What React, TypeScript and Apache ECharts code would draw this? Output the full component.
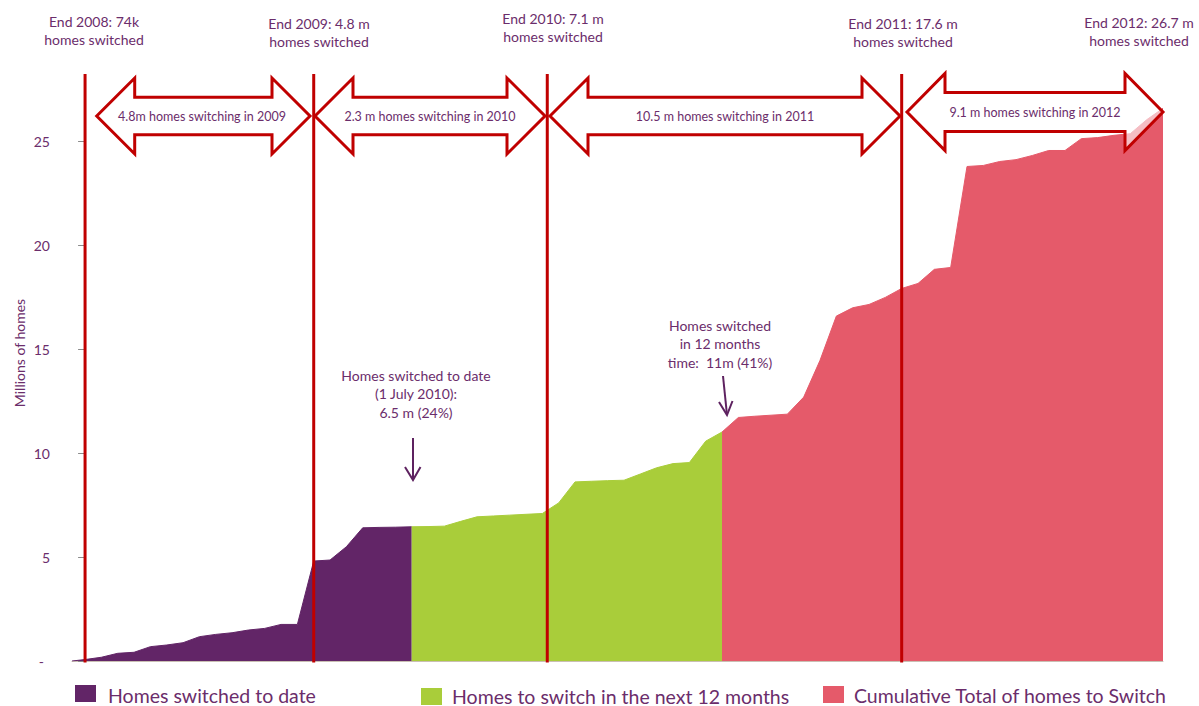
import React, { useEffect, useRef } from "react";
import * as echarts from "echarts";

// Cumulative homes switched (millions), one value per step of the horizontal axis
// steps 0..20 : homes switched to date (end 2008 -> 1 July 2010)
const switchedToDate = [0.07, 0.18, 0.37, 0.42, 0.69, 0.77, 0.88, 1.17, 1.28, 1.36, 1.49, 1.57, 1.76, 1.76, 4.81, 4.86, 5.5, 6.41, 6.43, 6.44, 6.46];
// steps 20..39 : homes to switch in the next 12 months
const nextTwelveMonths = [6.46, 6.47, 6.49, 6.72, 6.94, 6.98, 7.02, 7.06, 7.1, 7.61, 8.62, 8.65, 8.68, 8.7, 9.0, 9.3, 9.5, 9.55, 10.58, 11.02];
// steps 39..66 : cumulative total of homes to switch
const cumulativeTotal = [11.02, 11.72, 11.78, 11.83, 11.88, 12.7, 14.47, 16.6, 17.0, 17.16, 17.5, 17.93, 18.17, 18.85, 18.94, 23.8, 23.85, 24.04, 24.13, 24.33, 24.57, 24.57, 25.14, 25.19, 25.3, 25.38, 26.05, 26.6];

const seriesNames = ["Homes switched to date", "Homes to switch in the next 12 months", "Cumulative Total of homes to Switch"];
const seriesStart = [0, 20, 39];

const yTicks = [0, 5, 10, 15, 20, 25];
const Y_MAX = 27;
const X_MIN = -0.8;
const X_MAX = 66;

// year-end positions on the step axis
const yearEndSteps = [0, 14, 28.3, 50];
const yearEndLabels = [
  "End 2008: 74k\nhomes switched",
  "End 2009: 4.8 m\nhomes switched",
  "End 2010: 7.1 m\nhomes switched",
  "End 2011: 17.6 m\nhomes switched",
  "End 2012: 26.7 m\nhomes switched",
];
const yearArrowLabels = [
  "4.8m homes switching in 2009",
  "2.3 m homes switching in 2010",
  "10.5 m homes switching in 2011",
  "9.1 m homes switching in 2012",
];
const noteToDate = "Homes switched to date\n(1 July 2010):\n6.5 m (24%)";
const noteTwelve = "Homes switched\nin 12 months\ntime:  11m (41%)";

// layout (pixels) for overlays
const topLabelPos = [[94, 30], [319, 32], [553, 27.5], [903, 32.5], [1139, 31.5]];
const arrowSpans = [[96.7, 310, 116, 18.7, 38], [315, 545, 116, 18.7, 38], [550, 900, 116, 18.7, 38], [907, 1163, 112, 19.5, 38.5]];
const arrowTextPos = [[202, 116], [430, 116], [725, 116], [1035, 112]];

const COLORS = ["#622567", "#a9cd3a", "#e55a6a"];
const TEXT = "#6b2d6b";
const RED = "#c00000";
const FONT = "Lato";

function toPairs(vals: number[], start: number) {
  return vals.map((v, k) => [start + k, v]);
}

function arrowPoints(x1: number, x2: number, cy: number, sh: number, hh: number) {
  const hl = 38;
  return [
    [x1, cy], [x1 + hl, cy - hh], [x1 + hl, cy - sh], [x2 - hl, cy - sh], [x2 - hl, cy - hh],
    [x2, cy], [x2 - hl, cy + hh], [x2 - hl, cy + sh], [x1 + hl, cy + sh], [x1 + hl, cy + hh],
  ];
}

export default function App() {
  const ref = useRef<HTMLDivElement>(null);
  useEffect(() => {
    const el = ref.current!;
    const chart = echarts.init(el, null, { renderer: "svg" });
    const datasets = [
      [[X_MIN, 0], ...toPairs(switchedToDate, seriesStart[0])],
      toPairs(nextTwelveMonths, seriesStart[1]),
      toPairs(cumulativeTotal, seriesStart[2]),
    ];
    chart.setOption({
      animation: false,
      backgroundColor: "#ffffff",
      grid: { left: 72, right: 36, top: 100, bottom: 45 },
      xAxis: {
        type: "value",
        min: X_MIN,
        max: X_MAX,
        axisLine: { show: true, lineStyle: { color: "#c9bfb3", width: 1 } },
        axisTick: { show: false },
        axisLabel: { show: false },
        splitLine: { show: false },
      },
      yAxis: {
        type: "value",
        min: 0,
        max: Y_MAX,
        axisLine: { show: true, lineStyle: { color: "#8c8c8c", width: 2 } },
        axisTick: { show: true, length: 7, customValues: yTicks, lineStyle: { color: "#8c8c8c", width: 1 } },
        axisLabel: {
          customValues: yTicks,
          formatter: (v: number) => (v === 0 ? "{d|-}" : String(v)),
          color: TEXT,
          fontSize: 14,
          fontFamily: FONT,
          margin: 22,
          rich: { d: { color: TEXT, fontSize: 14, fontFamily: FONT, padding: [0, 6, 0, 0] } },
        },
        splitLine: { show: false },
      },
      series: datasets.map((d, i) => ({
        name: seriesNames[i],
        type: "line",
        data: d,
        symbol: "none",
        lineStyle: { width: 1, color: COLORS[i] },
        itemStyle: { color: COLORS[i] },
        areaStyle: { color: COLORS[i], opacity: 1 },
        z: 2 + i,
      })),
    });

    const xs = yearEndSteps.map((s) => chart.convertToPixel({ xAxisIndex: 0 }, s) as number);
    const yZero = chart.convertToPixel({ yAxisIndex: 0 }, 0) as number;

    const g: any[] = [];
    xs.forEach((x) => {
      g.push({ type: "line", z: 100, shape: { x1: x, y1: 74, x2: x, y2: yZero + 1.5 }, style: { stroke: RED, lineWidth: 3 } });
    });
    arrowSpans.forEach(([x1, x2, cy, sh, hh]) => {
      g.push({
        type: "polygon", z: 101,
        shape: { points: arrowPoints(x1, x2, cy, sh, hh) },
        style: { fill: "rgba(255,255,255,0.6)", stroke: RED, lineWidth: 3, lineJoin: "miter" },
      });
    });
    yearArrowLabels.forEach((t, i) => {
      g.push({ type: "text", z: 102, x: arrowTextPos[i][0], y: arrowTextPos[i][1],
        style: { text: t, fill: TEXT, fontSize: 12.5, fontFamily: FONT, align: "center", verticalAlign: "middle" } });
    });
    yearEndLabels.forEach((t, i) => {
      g.push({ type: "text", z: 102, x: topLabelPos[i][0], y: topLabelPos[i][1],
        style: { text: t, fill: TEXT, fontSize: 14, lineHeight: 18, fontFamily: FONT, align: "center", verticalAlign: "middle" } });
    });
    // annotations
    g.push({ type: "text", z: 102, x: 416, y: 393.5,
      style: { text: noteToDate, fill: TEXT, fontSize: 14, lineHeight: 18.5, fontFamily: FONT, align: "center", verticalAlign: "middle" } });
    g.push({ type: "line", z: 102, shape: { x1: 413, y1: 438, x2: 413, y2: 480 }, style: { stroke: "#5e2260", lineWidth: 2 } });
    g.push({ type: "polyline", z: 102, shape: { points: [[405, 467], [413, 480], [420.5, 467]] }, style: { stroke: "#5e2260", lineWidth: 2, fill: "none" } });
    g.push({ type: "text", z: 102, x: 720, y: 343.5,
      style: { text: noteTwelve, fill: TEXT, fontSize: 14, lineHeight: 18.5, fontFamily: FONT, align: "center", verticalAlign: "middle" } });
    g.push({ type: "line", z: 102, shape: { x1: 723, y1: 376, x2: 727, y2: 415 }, style: { stroke: "#5e2260", lineWidth: 2 } });
    g.push({ type: "polyline", z: 102, shape: { points: [[719, 402], [727, 415], [732.5, 401]] }, style: { stroke: "#5e2260", lineWidth: 2, fill: "none" } });
    // axis title
    g.push({ type: "text", z: 102, x: 19, y: 353, rotation: Math.PI / 2,
      style: { text: "Millions of homes", fill: TEXT, fontSize: 14, fontFamily: FONT, align: "center", verticalAlign: "middle" } });
    // legend
    const legendPos = [[75, 685, 108, 695.5], [421, 688, 452, 696], [823, 686, 854, 695.5]];
    seriesNames.forEach((n, i) => {
      const [rx, ry, tx, ty] = legendPos[i];
      g.push({ type: "rect", z: 102, shape: { x: rx, y: ry, width: 21, height: 17 }, style: { fill: COLORS[i] } });
      g.push({ type: "text", z: 102, x: tx, y: ty,
        style: { text: n, fill: TEXT, fontSize: 19.5, lineHeight: 15, fontFamily: FONT, align: "left", verticalAlign: "middle" } });
    });
    chart.setOption({ graphic: g });

    return () => chart.dispose();
  }, []);
  return <div ref={ref} style={{ position: "fixed", left: 0, top: 0, width: 1199, height: 706 }} />;
}
